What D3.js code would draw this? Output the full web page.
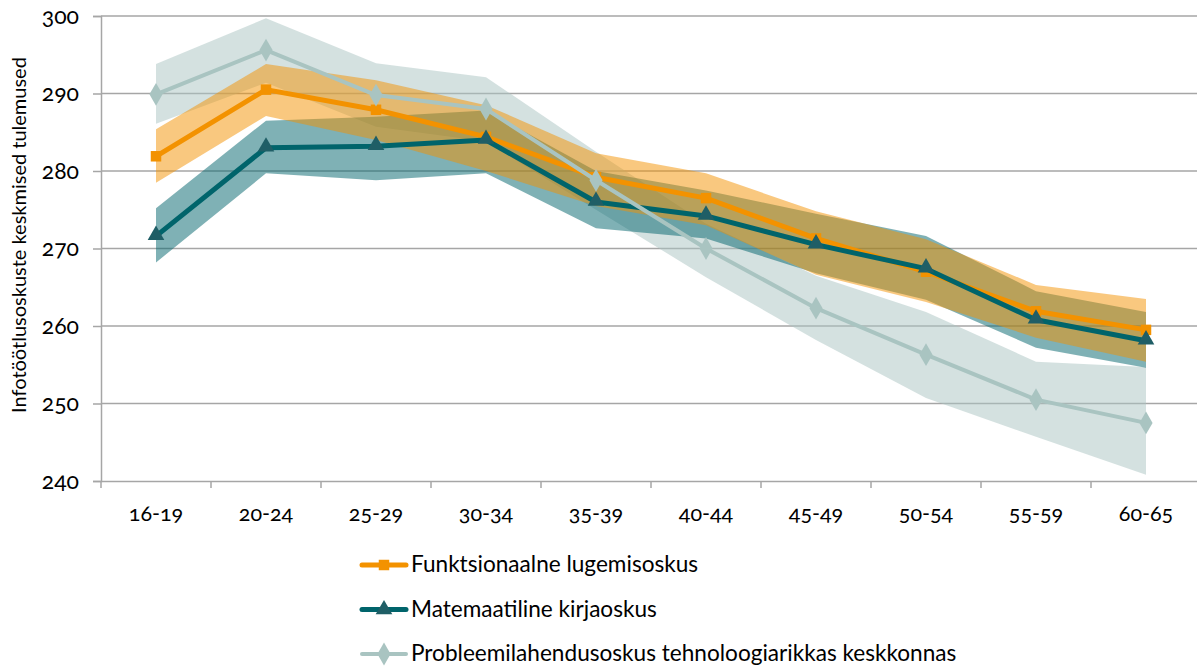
<!DOCTYPE html>
<html>
<head>
<meta charset="utf-8">
<script src="https://cdn.jsdelivr.net/npm/d3@7"></script>
<style>
	body { margin: 0; background: #fff; }
	svg { display: block; font-family: Lato, "Open Sans", sans-serif; }
	.num { font-variant-numeric: oldstyle-nums; font-feature-settings: "onum" 1; }
</style>
</head>
<body>
<svg id="chart" width="1197" height="668"></svg>
<script>
(() => {
	'use strict';

	const ageGroups = ['16-19', '20-24', '25-29', '30-34', '35-39', '40-44', '45-49', '50-54', '55-59', '60-65'],
		yTicks = [240, 250, 260, 270, 280, 290, 300];

	// Funktsionaalne lugemisoskus
	const readMean = [281.9, 290.5, 287.9, 284.4, 279.2, 276.5, 271.3, 267.0, 261.9, 259.5],
		readLow = [278.5, 287.1, 284.0, 280.0, 275.5, 273.0, 266.6, 263.1, 258.5, 255.4],
		readHigh = [285.4, 293.8, 291.7, 288.5, 282.3, 279.7, 274.8, 271.2, 265.3, 263.5];

	// Matemaatiline kirjaoskus
	const mathMean = [271.6, 283.0, 283.2, 284.0, 276.0, 274.2, 270.5, 267.4, 260.8, 258.1],
		mathLow = [268.2, 279.7, 278.8, 279.7, 272.6, 271.3, 266.8, 263.4, 257.2, 254.6],
		mathHigh = [275.2, 286.5, 287.0, 287.8, 280.0, 277.5, 274.5, 271.6, 264.5, 261.8];

	// Probleemilahendusoskus tehnoloogiarikkas keskkonnas
	const probMean = [289.9, 295.6, 289.8, 288.0, 278.8, 270.0, 262.3, 256.3, 250.5, 247.5],
		probLow = [286.1, 291.4, 285.7, 283.8, 275.0, 266.3, 258.2, 250.7, 245.7, 240.8],
		probHigh = [293.8, 299.7, 293.9, 292.1, 282.5, 273.2, 266.5, 261.8, 255.4, 254.7];

	const series = [
		{ name: 'Probleemilahendusoskus tehnoloogiarikkas keskkonnas', mean: probMean, low: probLow, high: probHigh,
			line: '#a9c4c1', band: 'rgba(169,196,193,0.5)', marker: 'diamond', width: 4 },
		{ name: 'Matemaatiline kirjaoskus', mean: mathMean, low: mathLow, high: mathHigh,
			line: '#00646b', band: 'rgba(0,100,107,0.5)', marker: 'triangle', width: 5, markerFill: '#1f5e66' },
		{ name: 'Funktsionaalne lugemisoskus', mean: readMean, low: readLow, high: readHigh,
			line: '#f39200', band: 'rgba(243,146,0,0.5)', marker: 'square', width: 5 }
	];
	const lineOrder = [series[2], series[1], series[0]];

	const svg = d3.select('#chart'),
		left = 101, right = 1201, top = 16, bottom = 481;

	const x = d3.scaleBand().domain(ageGroups).range([left, right]).padding(0),
		y = d3.scaleLinear().domain([240, 300]).range([bottom, top]);
	const cx = (i) => x(ageGroups[i]) + x.bandwidth() / 2;

	// gridlines
	svg.append('g')
		.selectAll('line')
		.data(yTicks.slice(1))
		.join('line')
		.attr('x1', left).attr('x2', right)
		.attr('y1', d => y(d)).attr('y2', d => y(d))
		.attr('stroke', '#a6a6a6').attr('stroke-width', 1.5);

	// bands
	const area = d3.area()
		.x((d, i) => cx(i))
		.y0(d => y(d[0]))
		.y1(d => y(d[1]));

	series.forEach((s) => {
		svg.append('path')
			.datum(s.low.map((v, i) => [v, s.high[i]]))
			.attr('d', area)
			.attr('fill', s.band);
	});

	// axes
	const yAxis = svg.append('g')
		.attr('transform', `translate(${left},0)`)
		.call(d3.axisLeft(y).tickValues(yTicks).tickSize(8).tickPadding(14));
	yAxis.select('.domain').attr('stroke', '#a6a6a6').attr('stroke-width', 1.5);
	yAxis.selectAll('.tick line').attr('stroke', '#a6a6a6').attr('stroke-width', 1.5);
	yAxis.selectAll('.tick text')
		.attr('class', 'num')
		.attr('font-size', 23).attr('fill', '#000').attr('font-family', 'Lato, sans-serif');

	const xAxis = svg.append('g')
		.attr('transform', `translate(0,${bottom})`)
		.call(d3.axisBottom(x).tickSize(0).tickPadding(25));
	xAxis.select('.domain').attr('stroke', '#a6a6a6').attr('stroke-width', 1.5);
	xAxis.selectAll('.tick text')
		.attr('class', 'num')
		.attr('font-size', 21.5).attr('fill', '#000').attr('font-family', 'Lato, sans-serif');
	xAxis.selectAll('.sep')
		.data(ageGroups)
		.join('line')
		.attr('x1', d => x(d)).attr('x2', d => x(d))
		.attr('y1', 0).attr('y2', 7)
		.attr('stroke', '#a6a6a6').attr('stroke-width', 1.5);

	// y title
	svg.append('text')
		.attr('transform', `translate(26,235) rotate(-90)`)
		.attr('text-anchor', 'middle')
		.attr('font-size', 20)
		.text('Infotöötlusoskuste keskmised tulemused');

	const symbolFor = (m) => m === 'square' ? d3.symbolSquare : m === 'triangle' ? d3.symbolTriangle : d3.symbolDiamond;
	const sizeFor = (m) => m === 'square' ? 110 : m === 'triangle' ? 120 : 150;

	// lines and markers
	const line = d3.line().x((d, i) => cx(i)).y(d => y(d));
	lineOrder.forEach((s) => {
		const g = svg.append('g');
		g.append('path')
			.datum(s.mean)
			.attr('d', line)
			.attr('fill', 'none')
			.attr('stroke', s.line)
			.attr('stroke-width', s.width)
			.attr('stroke-linejoin', 'round');
		g.selectAll('path.mk')
			.data(s.mean)
			.join('path')
			.attr('class', 'mk')
			.attr('transform', (d, i) => `translate(${cx(i)},${y(d) + (s.marker === 'triangle' ? -1 : 0)})`)
			.attr('d', d3.symbol().type(symbolFor(s.marker)).size(sizeFor(s.marker)))
			.attr('fill', s.markerFill || s.line);
	});

	// legend
	const legend = svg.append('g');
	lineOrder.forEach((s, i) => {
		const ly = 565 + i * 44.5;
		legend.append('line')
			.attr('x1', 362).attr('x2', 406)
			.attr('y1', ly).attr('y2', ly)
			.attr('stroke', s.line).attr('stroke-width', s.width)
			.attr('stroke-linecap', 'round');
		legend.append('path')
			.attr('transform', `translate(384,${ly})`)
			.attr('d', d3.symbol().type(symbolFor(s.marker)).size(sizeFor(s.marker)))
			.attr('fill', s.markerFill || s.line);
		legend.append('text')
			.attr('x', 411).attr('y', ly)
			.attr('dy', '0.33em')
			.attr('font-size', 22.6)
			.text(s.name);
	});
})();
</script>
</body>
</html>
